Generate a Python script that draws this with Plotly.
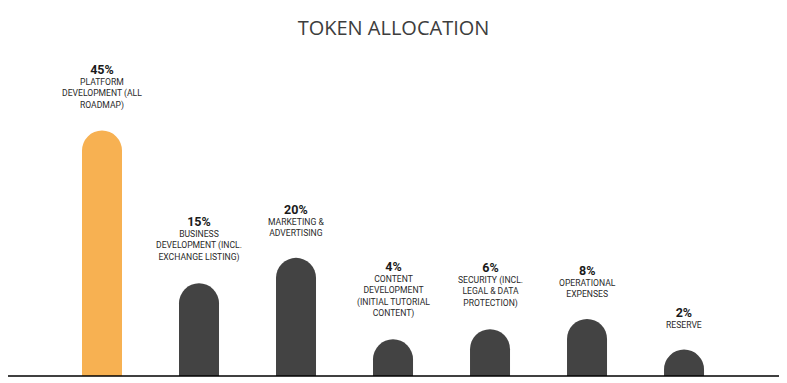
import plotly.graph_objects as go

categories = [
    "PLATFORM<br>DEVELOPMENT (ALL<br>ROADMAP)",
    "BUSINESS<br>DEVELOPMENT (INCL.<br>EXCHANGE LISTING)",
    "MARKETING &<br>ADVERTISING",
    "CONTENT<br>DEVELOPMENT<br>(INITIAL TUTORIAL<br>CONTENT)",
    "SECURITY (INCL.<br>LEGAL & DATA<br>PROTECTION)",
    "OPERATIONAL<br>EXPENSES",
    "RESERVE",
]
values = [45, 15, 20, 4, 6, 8, 2]
bar_colors = ["#F7B152", "#434343", "#434343", "#434343", "#434343", "#434343", "#434343"]

OFFSET = 3.2  # visual stem added under every bar so small bars show full rounded caps
x = list(range(len(values)))

fig = go.Figure()
fig.add_trace(go.Bar(
    x=x,
    y=[v + OFFSET for v in values],
    marker=dict(color=bar_colors, line=dict(width=0)),
    width=40 / 97,
    hoverinfo="skip",
))

for xi, v, c in zip(x, values, categories):
    fig.add_annotation(
        x=xi, y=v + OFFSET, xref="x", yref="y",
        text=f"<b style='font-size:12.5px;color:#1a1a1a'>{v}%</b><br>{c}",
        showarrow=False, yanchor="bottom", yshift=18,
        font=dict(family="Roboto, sans-serif", size=8.6, color="#2a2a2a"),
        align="center",
    )

fig.update_layout(
    width=771, height=369,
    margin=dict(l=0, r=0, t=92, b=1),
    paper_bgcolor="white", plot_bgcolor="white",
    barcornerradius=20,
    showlegend=False,
    title=dict(text="TOKEN ALLOCATION", x=0.5, xanchor="center", y=0.946, yanchor="middle",
               font=dict(family="Open Sans, sans-serif", size=20, color="#3d3d3d")),
    xaxis=dict(range=[-0.969, 6.979], showticklabels=False, showgrid=False, zeroline=False,
               showline=False, ticks=""),
    yaxis=dict(range=[0, 54.2], showticklabels=False, showgrid=False, zeroline=False,
               showline=False, ticks=""),
    shapes=[dict(type="line", xref="paper", yref="paper", x0=0, x1=1, y0=0, y1=0,
                 line=dict(color="black", width=1.5))],
)

fig.write_html("out.html")
